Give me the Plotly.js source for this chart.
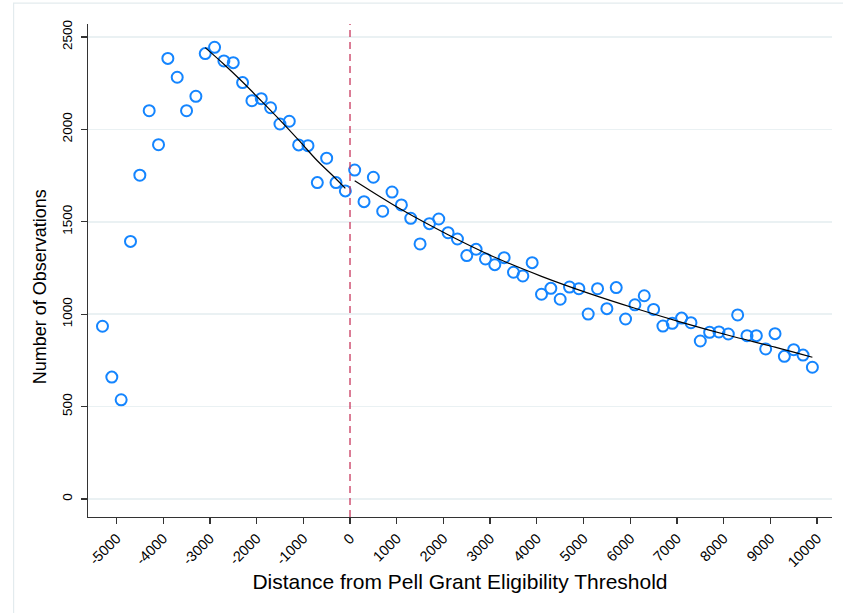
<!DOCTYPE html>
<html>
<head>
<meta charset="utf-8">
<script src="https://cdn.plot.ly/plotly-3.0.1.min.js"></script>
<style>html,body{margin:0;padding:0;background:#fff;}#chart{width:843px;height:613px;}</style>
</head>
<body>
<div id="chart"></div>
<script>
// Bin centers (distance from threshold)
const binX = [-5300,-5100,-4900,-4700,-4500,-4300,-4100,-3900,-3700,-3500,-3300,-3100,-2900,-2700,-2500,-2300,-2100,-1900,-1700,-1500,-1300,-1100,-900,-700,-500,-300,-100,
  100,300,500,700,900,1100,1300,1500,1700,1900,2100,2300,2500,2700,2900,3100,3300,3500,3700,3900,4100,4300,4500,4700,4900,5100,5300,5500,5700,5900,6100,6300,6500,6700,6900,7100,7300,7500,7700,7900,8100,8300,8500,8700,8900,9100,9300,9500,9700,9900];
// Number of observations per bin
const binCount = [935,660,537,1394,1752,2101,1917,2384,2282,2101,2179,2410,2444,2370,2361,2253,2155,2166,2117,2029,2044,1916,1912,1712,1844,1712,1667,
  1780,1609,1741,1557,1661,1591,1519,1380,1490,1515,1441,1407,1317,1351,1299,1268,1306,1227,1207,1279,1108,1140,1081,1147,1138,1001,1138,1030,1144,974,1051,1100,1026,936,951,979,954,855,902,904,893,996,884,884,812,895,772,808,779,713];
// Fitted curve, left of threshold
const fitLeftX = [-3100,-2700,-2300,-1900,-1500,-1100,-700,-400,-100];
const fitLeftY = [2442,2352,2256,2154,2050,1942,1830,1757,1681];
// Fitted curve, right of threshold
const fitRightX = [100,1100,2100,3100,4100,5100,6100,7100,8100,9100,9900];
const fitRightY = [1722,1566,1430,1308,1205,1114,1032,956,886,822,767];
const xTicks = [-5000,-4000,-3000,-2000,-1000,0,1000,2000,3000,4000,5000,6000,7000,8000,9000,10000];
const yTicks = [0,500,1000,1500,2000,2500];
const cutoff = 0;

const font = "Liberation Sans, Arial, sans-serif";
const traces = [
  {x: binX, y: binCount, type: 'scatter', mode: 'markers',
   marker: {symbol: 'circle-open', size: 11, color: '#1485ff', line: {width: 2, color: '#1485ff'}},
   hoverinfo: 'x+y', showlegend: false},
  {x: fitLeftX, y: fitLeftY, type: 'scatter', mode: 'lines',
   line: {color: '#000', width: 1.2, shape: 'spline'}, showlegend: false},
  {x: fitRightX, y: fitRightY, type: 'scatter', mode: 'lines',
   line: {color: '#000', width: 1.2, shape: 'spline'}, showlegend: false}
];
const layout = {
  width: 843, height: 613,
  paper_bgcolor: '#fff', plot_bgcolor: '#fff',
  margin: {l: 88, r: 11, t: 24, b: 96},
  font: {family: font, color: '#000', size: 13},
  showlegend: false,
  xaxis: {
    range: [-5610, 10320], tickvals: xTicks, ticktext: xTicks.map(String),
    tickangle: -45, ticks: 'outside', ticklen: 6, tickwidth: 1.3, tickcolor: '#333',
    showline: true, linecolor: '#333', linewidth: 1.3, showgrid: false, zeroline: false,
    tickfont: {size: 14.5, family: font},
    title: {text: 'Distance from Pell Grant Eligibility Threshold', font: {size: 21, family: font}, standoff: 5}
  },
  yaxis: {
    range: [-97, 2570], tickvals: yTicks, ticktext: yTicks.map(String),
    tickangle: -90, ticks: 'outside', ticklen: 6, tickwidth: 1.3, tickcolor: '#333',
    showline: true, linecolor: '#333', linewidth: 1.3,
    showgrid: true, gridcolor: '#eaf1f3', gridwidth: 1.5, zeroline: false,
    tickfont: {size: 13.5, family: font}, ticklabelstandoff: 3
  },
  annotations: [
    {text: 'Number of Observations', xref: 'paper', yref: 'paper', x: -0.0645, y: 0.466,
     xanchor: 'center', yanchor: 'middle', textangle: -90, showarrow: false,
     font: {size: 18, family: font, color: '#000'}}
  ],
  shapes: [
    {type: 'line', xref: 'x', yref: 'paper', x0: cutoff, x1: cutoff, y0: 0, y1: 1,
     line: {color: '#c8385e', width: 1.3, dash: '7px,5px'}},
    {type: 'rect', xref: 'paper', yref: 'paper', x0: -0.1, x1: 1.2, y0: -0.5, y1: 1.0425,
     line: {color: '#e3ebee', width: 1.2}, fillcolor: 'rgba(0,0,0,0)', layer: 'below'}
  ]
};
Plotly.newPlot('chart', traces, layout, {displayModeBar: false, staticPlot: true});
</script>
</body>
</html>
